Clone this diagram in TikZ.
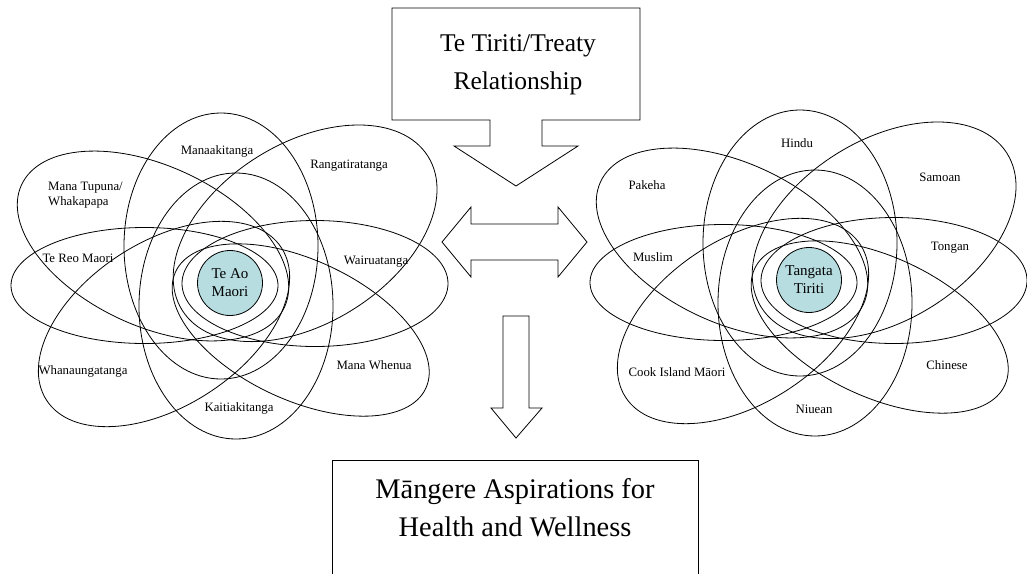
\documentclass[tikz,border=0pt]{standalone}
\usepackage{fontspec}
\setmainfont{Liberation Serif}
\definecolor{corefill}{RGB}{183,221,225}
\tikzset{
  ell/.style={draw=black, line width=0.8pt},
  lbl/.style={font=\fontsize{12.8}{15}\selectfont, inner sep=0pt, align=center},
  core/.style={circle, draw=black, line width=0.8pt, fill=corefill, minimum size=65pt, inner sep=0pt, align=center, font=\fontsize{15}{18}\selectfont},
  blockarrow/.style={draw=black, fill=white, line width=0.8pt, line join=miter},
  bigtext/.style={font=\fontsize{25.5}{30}\selectfont, inner sep=0pt},
  hugetext/.style={font=\fontsize{28.4}{34}\selectfont, inner sep=0pt},
  atom/.pic={
    \draw[ell] (144.5,285.5) ellipse (133.5 and 58);
    \draw[ell] (315,283.5) ellipse (133 and 63);
    \draw[ell] (221,246) ellipse (97 and 133);
    \draw[ell] (236,306) ellipse (97 and 133);
    \draw[ell, rotate around={-25:(153,246)}] (153,246) ellipse (145 and 80);
    \draw[ell, rotate around={-25:(300.7,330)}] (300.7,330) ellipse (138 and 70);
    \draw[ell, rotate around={32:(305.1,233.3)}] (305.1,233.3) ellipse (145 and 90);
    \draw[ell, rotate around={33:(164,324)}] (164,324) ellipse (140 and 82);
  }
}
\begin{document}
\begin{tikzpicture}[x=1pt,y=-1pt]
\useasboundingbox (0,0) rectangle (1027,573);

% clusters
\pic at (0,0) {atom};
\pic at (579,-3) {atom};

\node[core] (teao) at (230,283) {Te Ao\\Maori};
\node[core] (tangata) at (809,280) {Tangata\\Tiriti};

% left labels
\node[lbl] (manaaki) at (217,151) {Manaakitanga};
\node[lbl] (rangati) at (349,166) {Rangatiratanga};
\node[lbl, anchor=west, align=left] (manatupuna) at (48,195.5) {Mana Tupuna/\\Whakapapa};
\node[lbl] (tereo) at (78,258) {Te Reo Maori};
\node[lbl] (wairua) at (376,262) {Wairuatanga};
\node[lbl] (whanau) at (83,371) {Whanaungatanga};
\node[lbl] (manawhenua) at (374,365) {Mana Whenua};
\node[lbl] (kaitiaki) at (239,408) {Kaitiakitanga};

% right labels
\node[lbl] (hindu) at (797,143) {Hindu};
\node[lbl] (samoan) at (940,177) {Samoan};
\node[lbl] (pakeha) at (647,185) {Pakeha};
\node[lbl] (muslim) at (653,257) {Muslim};
\node[lbl] (tongan) at (950,248) {Tongan};
\node[lbl] (cookisland) at (677,372) {Cook Island Māori};
\node[lbl] (chinese) at (947,365) {Chinese};
\node[lbl] (niuean) at (814,409) {Niuean};

% top callout
\draw[blockarrow] (392,8) -- (640,8) -- (640,120) -- (542,120) -- (542,146) -- (578,146) -- (516,186) -- (454,146) -- (490,146) -- (490,120) -- (392,120) -- cycle;
\node[bigtext] (treaty1) at (518,46) {Te Tiriti/Treaty};
\node[bigtext] (treaty2) at (518,83) {Relationship};

% double arrow
\draw[blockarrow] (442,242) -- (471,207) -- (471,224) -- (558,224) -- (558,207) -- (587,242) -- (558,277) -- (558,260) -- (471,260) -- (471,277) -- cycle;

% down arrow
\draw[blockarrow] (503,316) -- (529,316) -- (529,408) -- (542,408) -- (516,438) -- (491,408) -- (503,408) -- cycle;

% bottom box
\draw[line width=0.8pt] (332,590) -- (332,460) -- (698,460) -- (698,590);
\node[hugetext] (mangere1) at (515,492) {Māngere Aspirations for};
\node[hugetext] (mangere2) at (515,527) {Health and Wellness};
\end{tikzpicture}
\end{document}
